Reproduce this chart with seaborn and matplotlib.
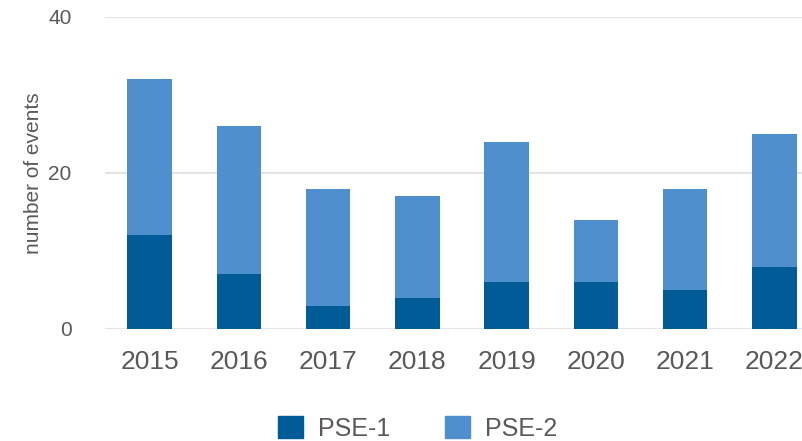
import numpy as np
import matplotlib
matplotlib.use("Agg")
import matplotlib.pyplot as plt
import seaborn as sns
import pandas as pd
from matplotlib.patches import Patch

years = ["2015", "2016", "2017", "2018", "2019", "2020", "2021", "2022"]
pse1 = [12, 7, 3, 4, 6, 6, 5, 8]
pse2 = [20, 19, 15, 13, 18, 8, 13, 17]

dark = "#005B96"
light = "#4F8FCD"
text_gray = "#595959"

sns.set_style("white")
plt.rcParams["font.family"] = ["Liberation Sans", "DejaVu Sans"]

df = pd.DataFrame({"year": years, "PSE-1": pse1, "PSE-2": pse2})
df["total"] = df["PSE-1"] + df["PSE-2"]

fig = plt.figure(figsize=(8.03, 4.41), dpi=100)
ax = fig.add_axes([105 / 803, 1 - 329 / 441, (803 - 105) / 803, (329 - 17) / 441])

# stacked: total in light, PSE-1 on top of it in dark
sns.barplot(data=df, x="year", y="total", color=light, width=0.5, saturation=1,
            linewidth=0, ax=ax)
sns.barplot(data=df, x="year", y="PSE-1", color=dark, width=0.5, saturation=1,
            linewidth=0, ax=ax)

ax.set_ylim(0, 40)
ax.set_xlim(-0.5, 7.32)
ax.set_yticks([0, 20, 40])
ax.yaxis.grid(True, color="#E4E4E4", linewidth=1.5)
ax.set_axisbelow(True)
for s in ax.spines.values():
    s.set_visible(False)
ax.tick_params(axis="x", labelsize=19, colors=text_gray, length=0, pad=15)
ax.tick_params(axis="y", labelsize=15, colors=text_gray, length=0, pad=24)
ax.set_xlabel("")
ax.set_ylabel("number of events", fontsize=15, color=text_gray, labelpad=4)

handles = [Patch(color=dark, label="PSE-1"), Patch(color=light, label="PSE-2")]
fig.legend(handles=handles, loc="lower center", bbox_to_anchor=(0.52, -0.05), ncol=2,
           frameon=False, fontsize=18, handlelength=1.0, handleheight=1.0,
           columnspacing=2.2, handletextpad=0.6, labelcolor=text_gray)

fig.savefig("out.png", dpi=100)
